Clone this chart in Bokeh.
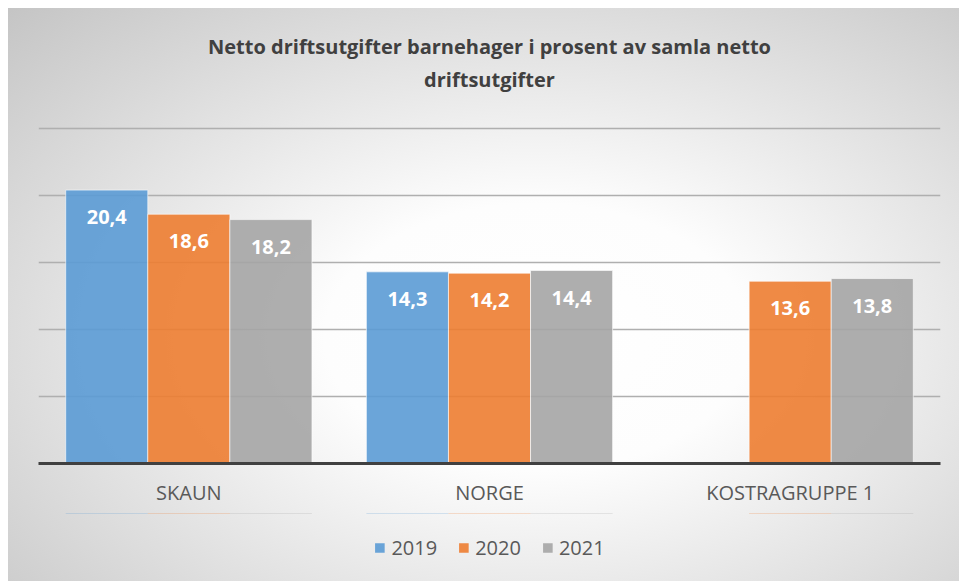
from bokeh.plotting import figure
from bokeh.layouts import column
from bokeh.models import (ColumnDataSource, FactorRange, Range1d, LabelSet, Title,
                          Legend, LegendItem, FixedTicker, Grid)
from bokeh.transform import dodge
from bokeh.core.properties import value
from bokeh.embed import file_html
from bokeh.resources import INLINE

# ---- data ----
categories = ["SKAUN", "NORGE", "KOSTRAGRUPPE 1"]
years = ["2019", "2020", "2021"]
v2019 = [20.4, 14.3, None]
v2020 = [18.6, 14.2, 13.6]
v2021 = [18.2, 14.4, 13.8]
title_lines = ["Netto driftsutgifter barnehager i prosent av samla netto", "driftsutgifter"]
y_ticks = [5, 10, 15, 20, 25]

colors = ["#5B9BD5", "#ED7D31", "#A5A5A5"]
series = [v2019, v2020, v2021]
FONT = "Open Sans"

W = 959
H1, H2 = 513, 68
bg = ("linear-gradient(#ffffff, #ffffff) top left / 100% 8px no-repeat, "
      "linear-gradient(#ffffff, #ffffff) top left / 8px 100% no-repeat, "
      "radial-gradient(ellipse farthest-corner at 56% 58%, #ffffff 0%, #fdfdfd 28%, #c3c3c3 100%)")

xr = FactorRange(factors=categories, range_padding=0)
p = figure(width=W, height=H1, x_range=xr, y_range=Range1d(0, 27.46),
           y_axis_location=None,
           output_backend="svg", toolbar_location=None,
           min_border_left=38, min_border_right=19,
           min_border_top=95, min_border_bottom=50,
           background_fill_color=None, border_fill_color=None,
           outline_line_color=None)

p.xgrid.visible = False
grid = Grid(dimension=1, ticker=FixedTicker(ticks=y_ticks),
            grid_line_color="#a6a6a6", grid_line_width=1.5, grid_line_alpha=0.85)
p.add_layout(grid)

# legend strip (its own small canvas under the chart, same x scale)
q = figure(width=W, height=H2, x_range=xr, y_range=Range1d(-100, -99),
           x_axis_location=None, y_axis_location=None,
           output_backend="svg", toolbar_location=None,
           min_border_left=21, min_border_right=0, min_border_top=0, min_border_bottom=0,
           background_fill_color=None, border_fill_color=None, outline_line_color=None)
q.xgrid.visible = False
q.ygrid.visible = False

bw = 0.273
offsets = [-bw, 0.0, bw]
items = []
for yr, vals, col, off in zip(years, series, colors, offsets):
    cats = [c for c, v in zip(categories, vals) if v is not None]
    vs = [v for v in vals if v is not None]
    labels = [f"{v:.1f}".replace(".", ",") for v in vs]
    src = ColumnDataSource(dict(cat=cats, val=vs, lab=labels))
    p.vbar(x=dodge("cat", off, range=xr), top="val", width=bw, source=src,
           fill_color=col, fill_alpha=0.9, line_color="white", line_alpha=0.6, line_width=1)
    ls = LabelSet(x=dodge("cat", off, range=xr), y="val", text="lab", source=src,
                  y_offset=-27, text_align="center", text_baseline="middle",
                  text_color="white", text_font=value(FONT), text_font_style="bold",
                  text_font_size="20px")
    p.add_layout(ls)
    # same series in the legend strip (its y range lies far below the bars, so only the legend shows)
    r = q.vbar(x=dodge("cat", off, range=xr), top="val", width=bw, source=src,
               fill_color=col, fill_alpha=0.9, line_color=None)
    items.append(LegendItem(label=yr, renderers=[r]))

ax = p.xaxis[0]
ax.axis_line_color = "#404040"
ax.axis_line_width = 3
ax.major_tick_line_color = None
ax.minor_tick_line_color = None
ax.major_label_standoff = 9
ax.major_label_text_font = FONT
ax.major_label_text_font_size = "20px"
ax.major_label_text_color = "#595959"

# title: second line nearest the plot, then first line above it
for txt, sf in zip(reversed(title_lines), [6, 2]):
    p.add_layout(Title(text=txt, align="center", standoff=sf,
                       text_font=FONT, text_font_style="bold", text_font_size="20px",
                       text_color="#404040"), "above")

legend = Legend(items=items, orientation="horizontal", location="center",
                glyph_width=12, glyph_height=12, label_standoff=6, spacing=20,
                label_text_font=FONT, label_text_font_size="20px", label_text_color="#595959",
                border_line_color=None, background_fill_alpha=0, padding=8, margin=0)
q.add_layout(legend)

layout = column(p, q, spacing=0, styles={"background": bg})
open("out.html", "w").write(file_html(layout, INLINE))
